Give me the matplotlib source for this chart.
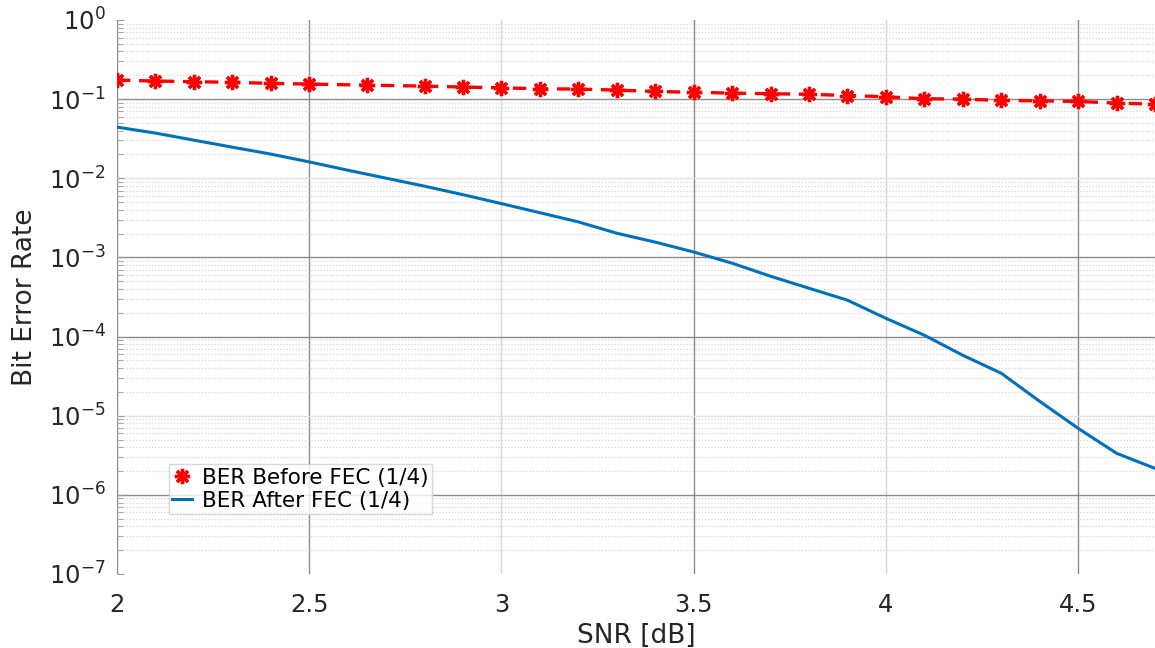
import numpy as np
import matplotlib.pyplot as plt
from matplotlib.ticker import FuncFormatter, LogLocator

##Data##
snr_before = [2.0, 2.1, 2.2, 2.3, 2.4, 2.5, 2.65, 2.8, 2.9, 3.0, 3.1, 3.2, 3.3, 3.4,
              3.5, 3.6, 3.7, 3.8, 3.9, 4.0, 4.1, 4.2, 4.3, 4.4, 4.5, 4.6, 4.7]
ber_before = [0.174, 0.169, 0.166, 0.163, 0.158, 0.155, 0.150, 0.146, 0.142, 0.139,
              0.135, 0.134, 0.130, 0.125, 0.122, 0.119, 0.117, 0.115, 0.111, 0.107,
              0.101, 0.100, 0.0963, 0.0952, 0.0935, 0.089, 0.0865]

snr_after = [2.0, 2.1, 2.2, 2.3, 2.4, 2.5, 2.6, 2.7, 2.8, 2.9, 3.0, 3.1, 3.2, 3.3,
             3.4, 3.5, 3.6, 3.7, 3.8, 3.9, 4.0, 4.1, 4.2, 4.3, 4.4, 4.5, 4.6, 4.7]
ber_after = [0.0443, 0.0372, 0.0303, 0.0247, 0.0202, 0.0161, 0.01265, 0.01002,
             0.00794, 0.00620, 0.00478, 0.00367, 0.00281, 0.00202, 0.00156,
             0.00117, 8.45e-4, 5.78e-4, 4.08e-4, 2.88e-4, 1.70e-4, 1.04e-4,
             5.80e-5, 3.44e-5, 1.52e-5, 6.93e-6, 3.35e-6, 2.16e-6]

x_ticks = [2, 2.5, 3, 3.5, 4, 4.5]
labels = ["BER Before FEC (1/4)", "BER After FEC (1/4)"]

##Figure##
plt.rcParams['font.family'] = ['DejaVu Sans']
fig = plt.figure(figsize=(11.55, 6.48), dpi=100)
ax = fig.add_axes([0.1013, 0.1142, 0.8987, 0.855])

ax.semilogy(snr_before, ber_before, color='#ff0000', linestyle=(0, (4.0, 2.6)),
            linewidth=2.4, marker=(8, 2, 0), markersize=11, markeredgewidth=2.4,
            label=labels[0])
ax.semilogy(snr_after, ber_after, color='#0072bd', linewidth=2.2, label=labels[1])

##Axes##
ax.set_xlim(2, 4.7)
ax.set_ylim(1e-7, 1)
ax.set_xticks(x_ticks)
ax.xaxis.set_major_formatter(FuncFormatter(lambda v, p: "%g" % v))
ax.yaxis.set_major_locator(LogLocator(base=10, numticks=10))
ax.yaxis.set_minor_locator(LogLocator(base=10, subs=np.arange(2, 10), numticks=20))
for s in ax.spines.values():
    s.set_visible(False)
ax.tick_params(axis='x', length=0, labelsize=17.5, colors='#262626', pad=14)
ax.tick_params(axis='y', which='both', direction='in', color='#999999',
               labelsize=17.5, labelcolor='#262626', pad=8)
ax.tick_params(axis='y', which='major', length=5)
ax.tick_params(axis='y', which='minor', length=4)

##Grid##
ax.grid(True, which='major', axis='both', color='#8c8c8c', linewidth=1.0)
ax.grid(True, which='minor', axis='y', color='#d9d9d9', linestyle=(0, (1, 1.5)),
        linewidth=0.9)
ax.set_axisbelow(True)

ax.set_xlabel("SNR [dB]", fontsize=19, color='#262626', labelpad=4)
ax.set_ylabel("Bit Error Rate", fontsize=19, color='#262626', labelpad=8)

##Legend##
leg = ax.legend(loc='lower left', bbox_to_anchor=(0.05, 0.108), fontsize=15.5,
                frameon=True, fancybox=False, handlelength=0.9, handletextpad=0.5,
                borderpad=0.15, labelspacing=0.15, borderaxespad=0)
leg.get_frame().set_edgecolor('#d0d0d0')
leg.get_frame().set_linewidth(1.0)
leg.legend_handles[0].set_linestyle('none')

##Lighter / hidden major lines as in the original (after a draw so locs are set)##
fig.canvas.draw()
for t in ax.yaxis.get_major_ticks():
    loc = t.get_loc()
    if np.isclose(loc, 1.0) or np.isclose(loc, 1e-7):
        t.gridline.set_visible(False)
    elif np.isclose(loc, 1e-2) or np.isclose(loc, 1e-5):
        t.gridline.set_color('#e3e3e3')
for t in ax.xaxis.get_major_ticks():
    if np.isclose(t.get_loc(), 3) or np.isclose(t.get_loc(), 4):
        t.gridline.set_color('#d6d6d6')

##Save plot##
fig.savefig("out.png", dpi=100)
